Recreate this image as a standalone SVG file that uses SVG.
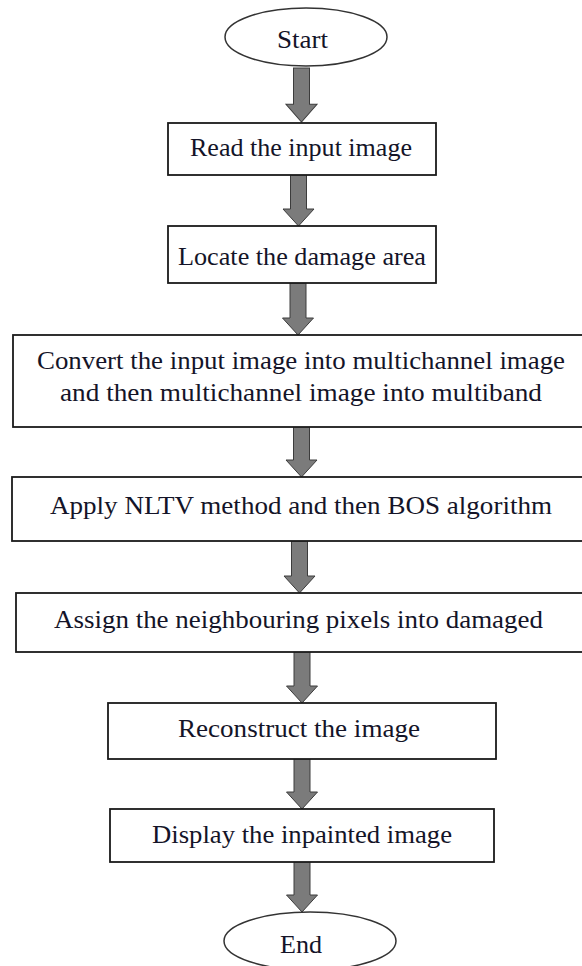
<svg xmlns="http://www.w3.org/2000/svg" width="582" height="966" viewBox="0 0 582 966">
  <style>
    .box { fill: #ffffff; stroke: #1a1a1a; stroke-width: 1.8; }
    .term { fill: #ffffff; stroke: #333333; stroke-width: 1.5; }
    .lbl { font-family: "Liberation Serif", "Times New Roman", serif; font-size: 25px; fill: #141428; text-anchor: middle; }
    .arrow { fill: #7b7b7b; stroke: #3c3c3c; stroke-width: 1; stroke-linejoin: miter; }
  </style>
  <defs>
    <!-- block arrow: shaft 16 wide, head 31 wide and 17 long; tip at (0,0) -->
    <path id="blockArrow" d="M -8 -52 L 8 -52 L 8 -17 L 15.5 -17 L 0 0 L -15.5 -17 L -8 -17 Z"/>
  </defs>

  <rect width="582" height="966" fill="#ffffff"/>

  <!-- connectors: each arrow is translated to its tip -->
  <g id="connectors" class="arrow">
    <use href="#blockArrow" transform="translate(301.5,122) scale(1,1.04)"/>
    <use href="#blockArrow" transform="translate(298.5,226)"/>
    <use href="#blockArrow" transform="translate(298,335)"/>
    <use href="#blockArrow" transform="translate(301.5,477)"/>
    <use href="#blockArrow" transform="translate(299.5,593)"/>
    <use href="#blockArrow" transform="translate(302,703)"/>
    <use href="#blockArrow" transform="translate(302,809)"/>
    <use href="#blockArrow" transform="translate(302,912)"/>
  </g>

  <g id="start">
    <ellipse class="term" cx="306" cy="37" rx="81" ry="29"/>
    <text class="lbl" x="302.5" y="48" textLength="51" lengthAdjust="spacingAndGlyphs">Start</text>
  </g>

  <g id="read">
    <rect class="box" x="168" y="123" width="268" height="52"/>
    <text class="lbl" x="301" y="156" textLength="222" lengthAdjust="spacingAndGlyphs">Read the input image</text>
  </g>

  <g id="locate">
    <rect class="box" x="168" y="226" width="268" height="57"/>
    <text class="lbl" x="302" y="265" textLength="248" lengthAdjust="spacingAndGlyphs">Locate the damage area</text>
  </g>

  <g id="convert">
    <rect class="box" x="13" y="335" width="580" height="92"/>
    <text class="lbl" x="301" y="369" textLength="528" lengthAdjust="spacingAndGlyphs">Convert the input image into multichannel image</text>
    <text class="lbl" x="301" y="401" textLength="482" lengthAdjust="spacingAndGlyphs">and then multichannel image into multiband</text>
  </g>

  <g id="apply">
    <rect class="box" x="12" y="477" width="581" height="64"/>
    <text class="lbl" x="301" y="514" textLength="502" lengthAdjust="spacingAndGlyphs">Apply NLTV method and then BOS algorithm</text>
  </g>

  <g id="assign">
    <rect class="box" x="16" y="593" width="577" height="59"/>
    <text class="lbl" x="298.5" y="628" textLength="489" lengthAdjust="spacingAndGlyphs">Assign the neighbouring pixels into damaged</text>
  </g>

  <g id="reconstruct">
    <rect class="box" x="108" y="703" width="388" height="56"/>
    <text class="lbl" x="299" y="737" textLength="242" lengthAdjust="spacingAndGlyphs">Reconstruct the image</text>
  </g>

  <g id="display">
    <rect class="box" x="110" y="809" width="384" height="53"/>
    <text class="lbl" x="302" y="843" textLength="300" lengthAdjust="spacingAndGlyphs">Display the inpainted image</text>
  </g>

  <g id="end">
    <ellipse class="term" cx="310" cy="941" rx="86" ry="29"/>
    <text class="lbl" x="301" y="953" textLength="42" lengthAdjust="spacingAndGlyphs">End</text>
  </g>
</svg>
